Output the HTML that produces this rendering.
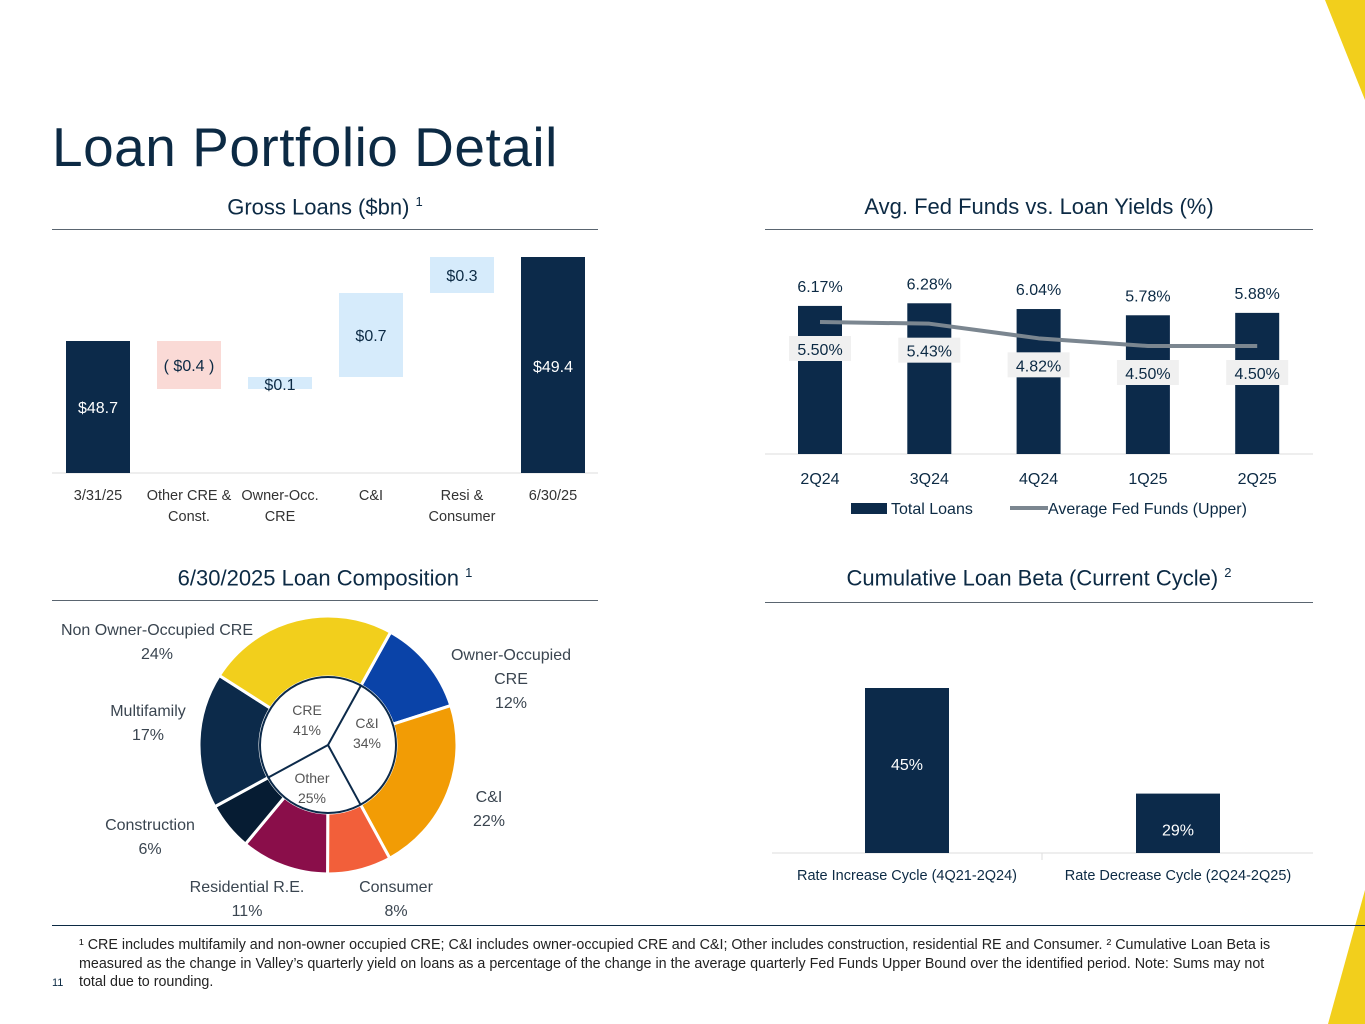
<!DOCTYPE html>
<html><head><meta charset="utf-8">
<style>
body{margin:0;width:1365px;height:1024px;overflow:hidden;background:#fff;font-family:"Liberation Sans",sans-serif;color:#0c2a44;position:relative}
.abs{position:absolute}
.h2{position:absolute;font-size:22px;color:#0c2a44;text-align:center}
.rule{position:absolute;height:1px;background:#5a6570}
</style></head><body>
<svg class="abs" style="left:0;top:0" width="1365" height="1024">
<polygon points="1325,0 1365,0 1365,100" fill="#f2cf1c"/>
<polygon points="1365,890 1365,1024 1328,1024" fill="#f2cf1c"/>
</svg>
<div class="abs" style="left:52px;top:115px;font-size:55px;letter-spacing:0.5px;color:#0c2a44">Loan Portfolio Detail</div>

<div class="h2" style="left:52px;width:546px;top:194px">Gross Loans ($bn) <sup style="font-size:13px">1</sup></div>
<div class="rule" style="left:52px;width:546px;top:229px"></div>
<div class="h2" style="left:765px;width:548px;top:194px">Avg. Fed Funds vs. Loan Yields (%)</div>
<div class="rule" style="left:765px;width:548px;top:229px"></div>
<div class="h2" style="left:52px;width:546px;top:565px">6/30/2025 Loan Composition <sup style="font-size:13px">1</sup></div>
<div class="rule" style="left:52px;width:546px;top:600px"></div>
<div class="h2" style="left:765px;width:548px;top:565px">Cumulative Loan Beta (Current Cycle) <sup style="font-size:13px">2</sup></div>
<div class="rule" style="left:765px;width:548px;top:602px"></div>
<div class="rule" style="left:52px;width:1313px;top:925px;background:#0c2a44"></div>
<div class="abs" style="left:52px;top:977px;font-size:11px">11</div>
<div class="abs" style="left:79px;top:936px;width:1215px;font-size:14.3px;line-height:18.5px;color:#222">¹ CRE includes multifamily and non-owner occupied CRE; C&amp;I includes owner-occupied CRE and C&amp;I; Other includes construction, residential RE and Consumer.  ² Cumulative Loan Beta is measured as the change in Valley’s quarterly yield on loans as a percentage of the change in the average quarterly Fed Funds Upper Bound over the identified period.  Note: Sums may not total due to rounding.</div>

<svg id="wf" class="abs" style="left:0;top:0" width="620" height="540"></svg>
<svg id="ff" class="abs" style="left:0;top:0" width="1365" height="540"></svg>
<svg id="pie" class="abs" style="left:0;top:0" width="620" height="930"></svg>
<svg id="beta" class="abs" style="left:0;top:0" width="1365" height="900"></svg>

<script>
const NS="http://www.w3.org/2000/svg";
function mk(p,t,a,txt){const e=document.createElementNS(NS,t);for(const k in a)e.setAttribute(k,a[k]);if(txt!==undefined)e.textContent=txt;p.appendChild(e);return e;}
const F='"Liberation Sans",sans-serif';

// Waterfall
const wfCats=["3/31/25","Other CRE &|Const.","Owner-Occ.|CRE","C&I","Resi &|Consumer","6/30/25"];
const wfVals=[48.7,-0.4,0.1,0.7,0.3,49.4];
const wfLabels=["$48.7","( $0.4 )","$0.1","$0.7","$0.3","$49.4"];
const wf=document.getElementById('wf');
const wy=v=>473-(v-47.6)*120;
const wx=i=>98+i*91;
mk(wf,'line',{x1:52,x2:598,y1:473,y2:473,stroke:'#ddd'});
let run=0;
wfVals.forEach((v,i)=>{
 let y0,y1,fill,tc;
 if(i===0||i===wfVals.length-1){y0=wy(v);y1=473;fill='#0c2a4a';tc='#fff';run=v;}
 else{const a=run,b=run+v;run=b;y0=wy(Math.max(a,b));y1=wy(Math.min(a,b));fill=v<0?'#fadad6':'#d6ebfb';tc='#0c2a44';}
 const r=mk(wf,'rect',{x:wx(i)-32,y:y0,width:64,height:Math.max(y1-y0,6),fill});
 
 const ly=(i===0||i===5)?(i===0?413:372):(i===2?y0+13:(y0+y1)/2+6);
 mk(wf,'text',{x:wx(i),y:ly,'text-anchor':'middle','font-size':16,fill:tc,'font-family':F},wfLabels[i]);
 wfCats[i].split('|').forEach((s,k)=>mk(wf,'text',{x:wx(i),y:500+k*21,'text-anchor':'middle','font-size':14.5,fill:'#333','font-family':F},s));
});

// Fed funds
const ffCats=["2Q24","3Q24","4Q24","1Q25","2Q25"];
const ffYields=[6.17,6.28,6.04,5.78,5.88];
const ffFed=[5.50,5.43,4.82,4.50,4.50];
const ff=document.getElementById('ff');
const fy=v=>454-v*24, fx=i=>820+i*109.3;
mk(ff,'line',{x1:765,x2:1313,y1:454,y2:454,stroke:'#ddd'});
ffYields.forEach((v,i)=>{
 const r=mk(ff,'rect',{x:fx(i)-22,y:fy(v),width:44,height:454-fy(v),fill:'#0c2a4a'});
 
 mk(ff,'text',{x:fx(i),y:fy(v)-14,'text-anchor':'middle','font-size':16,fill:'#0c2a44','font-family':F},v.toFixed(2)+'%');
 mk(ff,'text',{x:fx(i),y:484,'text-anchor':'middle','font-size':16,fill:'#0c2a44','font-family':F},ffCats[i]);
});
let d='';ffFed.forEach((v,i)=>{d+=(i?' L':'M')+fx(i)+','+fy(v);});
const pl=mk(ff,'path',{d,fill:'none',stroke:'#7b8690','stroke-width':4,'stroke-linejoin':'round'});

ffFed.forEach((v,i)=>{
 mk(ff,'rect',{x:fx(i)-31,y:fy(v)+14,width:62,height:25,fill:'#f0f0f0'});
 mk(ff,'text',{x:fx(i),y:fy(v)+33,'text-anchor':'middle','font-size':16,fill:'#0c2a44','font-family':F},v.toFixed(2)+'%');
});
mk(ff,'rect',{x:851,y:503,width:36,height:11,fill:'#0c2a4a'});
mk(ff,'text',{x:891,y:514,'font-size':16,fill:'#0c2a44','font-family':F},'Total Loans');
mk(ff,'line',{x1:1010,x2:1048,y1:508,y2:508,stroke:'#7b8690','stroke-width':4});
mk(ff,'text',{x:1048,y:514,'font-size':16,fill:'#0c2a44','font-family':F},'Average Fed Funds (Upper)');

// Donut
const pieCats=["Owner-Occupied CRE","C&I","Consumer","Residential R.E.","Construction","Multifamily","Non Owner-Occupied CRE"];
const pieVals=[12,22,8,11,6,17,24];
const pieColors=["#0a43a8","#f29c05","#f25f3a","#8a0e4a","#061c33","#0c2a4a","#f2cf1c"];
const innerCats=["C&I","Other","CRE"];
const innerVals=[34,25,41];
const pie=document.getElementById('pie');
const cx=328,cy=745,R=129,r0=68,start=29;
function pt(a,rad){const t=(a-90)*Math.PI/180;return [cx+rad*Math.cos(t),cy+rad*Math.sin(t)];}
const tot=pieVals.reduce((a,b)=>a+b,0);let ang=start;
pieVals.forEach((v,i)=>{
 const a2=ang+v/tot*360;const [x1,y1]=pt(ang,R),[x2,y2]=pt(a2,R),[x3,y3]=pt(a2,r0),[x4,y4]=pt(ang,r0);const lg=a2-ang>180?1:0;
 const p=mk(pie,'path',{d:`M${x1},${y1} A${R},${R} 0 ${lg} 1 ${x2},${y2} L${x3},${y3} A${r0},${r0} 0 ${lg} 0 ${x4},${y4}Z`,fill:pieColors[i],stroke:'#fff','stroke-width':3});
 
 ang=a2;
});
mk(pie,'circle',{cx,cy,r:r0,fill:'#fff',stroke:'#0c2a4a','stroke-width':2});
const itot=innerVals.reduce((a,b)=>a+b,0);ang=start;
const ipos=[[367,728],[312,783],[307,715]];
innerVals.forEach((v,i)=>{
 const [x,y]=pt(ang,r0);mk(pie,'line',{x1:cx,y1:cy,x2:x,y2:y,stroke:'#0c2a4a','stroke-width':2});
 ang+=v/itot*360;
 mk(pie,'text',{x:ipos[i][0],y:ipos[i][1],'text-anchor':'middle','font-size':14,fill:'#555','font-family':F},innerCats[i]);
 mk(pie,'text',{x:ipos[i][0],y:ipos[i][1]+20,'text-anchor':'middle','font-size':14,fill:'#555','font-family':F},v+'%');
});
const lab=[[511,660,["Owner-Occupied","CRE"]],[489,802,["C&I"]],[396,892,["Consumer"]],[247,892,["Residential R.E."]],[150,830,["Construction"]],[148,716,["Multifamily"]],[157,635,["Non Owner-Occupied CRE"]]];
lab.forEach((l,i)=>{
 l[2].forEach((s,k)=>mk(pie,'text',{x:l[0],y:l[1]+k*24,'text-anchor':'middle','font-size':16,fill:'#3a4550','font-family':F},s));
 mk(pie,'text',{x:l[0],y:l[1]+l[2].length*24,'text-anchor':'middle','font-size':16,fill:'#3a4550','font-family':F},pieVals[i]+'%');
});

// Beta
const betaCats=["Rate Increase Cycle (4Q21-2Q24)","Rate Decrease Cycle (2Q24-2Q25)"];
const betaVals=[45,29];
const beta=document.getElementById('beta');
const by=v=>853-(v-20)*6.6, bx=i=>907+i*271;
mk(beta,'line',{x1:772,x2:1313,y1:853,y2:853,stroke:'#ddd'});
mk(beta,'line',{x1:1042,x2:1042,y1:853,y2:860,stroke:'#ddd'});
betaVals.forEach((v,i)=>{
 const r=mk(beta,'rect',{x:bx(i)-42,y:by(v),width:84,height:853-by(v),fill:'#0c2a4a'});
 
 mk(beta,'text',{x:bx(i),y:by(v)+(i?42:82),'text-anchor':'middle','font-size':16,fill:'#fff','font-family':F},v+'%');
 mk(beta,'text',{x:bx(i),y:880,'text-anchor':'middle','font-size':14.5,fill:'#0c2a44','font-family':F},betaCats[i]);
});
</script>
</body></html>
